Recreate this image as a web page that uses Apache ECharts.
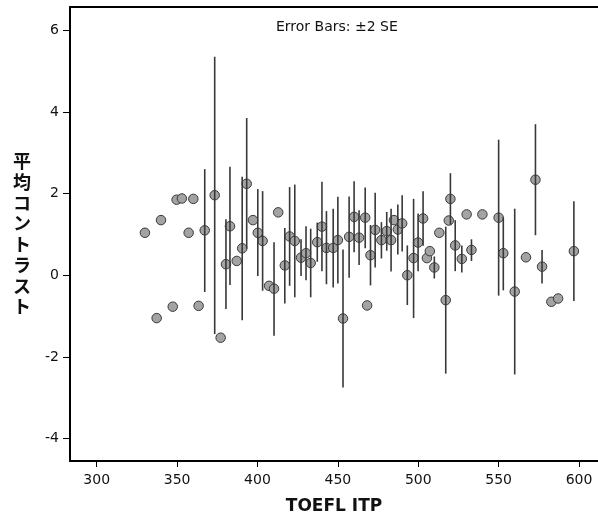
<!DOCTYPE html>
<html>
<head>
<meta charset="utf-8">
<script src="https://cdn.jsdelivr.net/npm/echarts@6/dist/echarts.min.js"></script>
<style>html,body{margin:0;padding:0;background:#fff}#c{width:598px;height:520px}</style>
</head>
<body>
<div id="c"></div>
<script>
// TOEFL ITP score for each point
const xVals = [330.0,337.3,340.0,347.3,349.7,353.0,357.2,360.1,363.4,367.2,373.4,377.1,380.4,382.9,387.1,390.5,393.3,397.2,400.2,403.2,407.2,410.3,412.9,417.0,420.0,423.2,427.1,430.2,433.1,437.2,440.1,442.9,447.1,450.0,453.2,457.0,460.1,463.2,467.0,468.2,470.3,473.2,477.1,480.4,483.1,484.9,487.3,490.0,493.2,497.1,499.9,503.0,505.4,507.2,510.0,513.1,517.1,519.0,520.0,523.0,527.1,530.1,533.1,539.9,550.0,552.9,560.0,567.0,572.9,577.0,582.8,587.0,596.8];
// mean contrast
const means = [1.04,-1.05,1.35,-0.77,1.85,1.88,1.04,1.87,-0.75,1.10,1.96,-1.53,0.27,1.20,0.35,0.66,2.24,1.35,1.04,0.84,-0.26,-0.33,1.54,0.24,0.95,0.84,0.43,0.54,0.30,0.81,1.19,0.67,0.67,0.86,-1.06,0.94,1.43,0.92,1.41,-0.74,0.49,1.11,0.86,1.08,0.86,1.35,1.12,1.27,0.00,0.42,0.80,1.39,0.42,0.59,0.19,1.04,-0.61,1.34,1.87,0.73,0.40,1.49,0.62,1.49,1.41,0.54,-0.40,0.44,2.34,0.21,-0.65,-0.57,0.59];
// error bar lower ends (mean - 2 SE), null when no bar
const lowers = [null,null,null,null,null,null,null,null,null,-0.41,-1.44,null,-0.83,-0.24,null,-1.10,0.65,null,-0.02,-0.38,null,-1.48,null,-0.69,-0.26,-0.54,-0.02,-0.12,-0.54,0.33,0.10,-0.22,-0.30,-0.20,-2.75,-0.06,0.56,0.25,0.66,null,-0.25,0.19,0.41,0.60,0.09,null,0.51,0.58,-0.73,-1.05,0.10,0.72,null,null,-0.08,null,-2.41,null,1.24,0.10,0.07,null,0.35,null,-0.50,-0.37,-2.43,null,0.98,-0.20,null,null,-0.63];
// error bar upper ends (mean + 2 SE), null when no bar
const uppers = [null,null,null,null,null,null,null,null,null,2.60,5.35,null,1.37,2.66,null,2.41,3.85,null,2.11,2.06,null,0.81,null,1.16,2.16,2.22,0.88,1.20,1.14,1.29,2.29,1.57,1.63,1.92,0.63,1.93,2.30,1.59,2.15,null,1.23,2.02,1.30,1.55,1.63,null,1.73,1.96,0.73,1.87,1.51,2.06,null,null,0.46,null,1.19,null,2.50,1.35,0.73,null,0.88,null,3.32,1.42,1.63,null,3.70,0.62,null,null,1.81];
const xTicks = [300,350,400,450,500,550,600];
const yTicks = [-4,-2,0,2,4,6];
const titleText = 'Error Bars: \u00b12 SE';
const xName = 'TOEFL ITP';
const yName = '平均コントラスト';

const points = xVals.map((x, i) => [x, means[i]]);
const bars = [];
xVals.forEach((x, i) => { if (lowers[i] !== null) bars.push([x, lowers[i], uppers[i]]); });

const chart = echarts.init(document.getElementById('c'), null, {renderer: 'canvas'});
const font = 'DejaVu Sans';
chart.setOption({
  animation: false,
  backgroundColor: '#fff',
  title: {
    text: titleText, left: 271, top: 15,
    textStyle: {fontFamily: font, fontSize: 14, fontWeight: 'normal', color: '#111'}
  },
  grid: {left: 70, right: 0, top: 7, bottom: 57},
  xAxis: [{
    type: 'value', min: 283.4, max: 611.8,
    name: xName, nameLocation: 'middle', nameGap: 37,
    nameTextStyle: {fontFamily: font, fontSize: 17, fontWeight: 'bold', color: '#111'},
    axisLine: {show: true, onZero: false, lineStyle: {color: '#000', width: 2}},
    axisTick: {show: true, length: 6, customValues: xTicks, lineStyle: {color: '#000', width: 1}},
    axisLabel: {customValues: xTicks, margin: 12, fontFamily: font, fontSize: 14, color: '#111'},
    splitLine: {show: false}
  }, {
    type: 'value', position: 'top', min: 283.4, max: 611.8,
    axisLine: {show: true, onZero: false, lineStyle: {color: '#000', width: 2}},
    axisTick: {show: false}, axisLabel: {show: false}, splitLine: {show: false}
  }],
  yAxis: {
    type: 'value', min: -4.55, max: 6.57,
    name: yName.split('').join('\n'), nameLocation: 'middle', nameRotate: 0, nameGap: 39,
    nameTextStyle: {fontFamily: 'Noto Sans CJK JP', fontSize: 18, fontWeight: 'bold', color: '#111', lineHeight: 20.7},
    axisLine: {show: true, onZero: false, lineStyle: {color: '#000', width: 2}},
    axisTick: {show: true, length: 7, customValues: yTicks, lineStyle: {color: '#000', width: 1}},
    axisLabel: {customValues: yTicks, margin: 11, fontFamily: font, fontSize: 14, color: '#111'},
    splitLine: {show: false}
  },
  series: [{
    type: 'scatter', data: points, symbol: 'circle', symbolSize: 9.5, z: 2,
    itemStyle: {color: '#a3a3a3', borderColor: '#3a3a3a', borderWidth: 1, opacity: 1}
  }, {
    type: 'custom', data: bars, z: 3,
    encode: {x: 0, y: [1, 2]},
    renderItem: function (params, api) {
      const lo = api.coord([api.value(0), api.value(1)]);
      const hi = api.coord([api.value(0), api.value(2)]);
      return {type: 'line', shape: {x1: lo[0], y1: lo[1], x2: hi[0], y2: hi[1]},
        style: {stroke: '#383838', lineWidth: 1.6}};
    }
  }]
});
</script>
</body>
</html>
